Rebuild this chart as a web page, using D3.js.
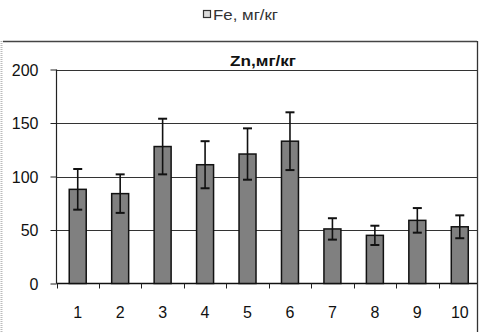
<!DOCTYPE html>
<html><head><meta charset="utf-8">
<script src="https://cdn.jsdelivr.net/npm/d3@7"></script>
<style>body{margin:0;background:#fff}svg{display:block}</style>
</head><body>
<script>
const categories = ["1","2","3","4","5","6","7","8","9","10"];
const values = [88, 84, 128, 111, 121, 133, 51, 45, 59, 53];
const errors = [19, 18, 26, 22, 24, 27, 10, 9, 11.5, 10.7];
const yTicks = [0, 50, 100, 150, 200];
const title = "Zn,мг/кг";
const legendLabel = "Fe, мг/кг";

const W = 481, H = 332;
const svg = d3.select("body").append("svg").attr("width", W).attr("height", H);
const font = "'Liberation Sans', Arial, sans-serif";

// outer chart box
svg.append("line").attr("x1", 3).attr("x2", 477).attr("y1", 41.5).attr("y2", 41.5).attr("stroke", "#444").attr("stroke-width", 1.3);
svg.append("line").attr("x1", 477.5).attr("x2", 477.5).attr("y1", 41).attr("y2", H).attr("stroke", "#333").attr("stroke-width", 1.3);
svg.append("line").attr("x1", 1.5).attr("x2", 1.5).attr("y1", 41).attr("y2", H).attr("stroke", "#bbb").attr("stroke-width", 2).attr("stroke-dasharray", "1,1");

// legend (from chart above)
svg.append("rect").attr("x", 203.5).attr("y", 10.5).attr("width", 7).attr("height", 7).attr("fill", "#ddd").attr("stroke", "#333").attr("stroke-width", 1.2);
svg.append("text").attr("x", 213).attr("y", 20).attr("font-family", font).attr("font-size", 14).attr("fill", "#333")
  .attr("textLength", 65).attr("lengthAdjust", "spacingAndGlyphs").text(legendLabel);

const x = d3.scaleBand().domain(categories).range([56.5, 481]).paddingInner(0.6).paddingOuter(0.3);
const xb = d3.scaleBand().domain(categories).range([56.5, 481]);
const y = d3.scaleLinear().domain([0, 200]).range([283.5, 69.5]);

// gridlines
svg.append("g").selectAll("line").data(yTicks.filter(d => d > 0)).join("line")
  .attr("x1", 56.5).attr("x2", 477).attr("y1", d => Math.round(y(d)) + 0.5).attr("y2", d => Math.round(y(d)) + 0.5)
  .attr("stroke", "#333").attr("stroke-width", 1.1);

// y axis
const ya = svg.append("g").attr("transform", "translate(56.5,0)")
  .call(d3.axisLeft(y).tickValues(yTicks).tickSize(6).tickPadding(12).tickFormat(d3.format("d")));
ya.select(".domain").attr("stroke", "#222").attr("stroke-width", 1.2).attr("d", `M0,${y(200)}V${y(0)}`);
ya.selectAll(".tick line").attr("stroke", "#222");
ya.selectAll("text").attr("font-family", font).attr("font-size", 16).attr("fill", "#111").attr("dy", "0.36em");

// x axis
svg.append("line").attr("x1", 56.5).attr("x2", 477).attr("y1", y(0)).attr("y2", y(0)).attr("stroke", "#111").attr("stroke-width", 1.3);
svg.append("g").selectAll("line").data(categories).join("line")
  .attr("x1", d => Math.round(xb(d)) + 0.5).attr("x2", d => Math.round(xb(d)) + 0.5)
  .attr("y1", y(0)).attr("y2", y(0) + 5).attr("stroke", "#222");
svg.append("g").selectAll("text").data(categories).join("text")
  .attr("x", d => xb(d) + xb.bandwidth() / 2).attr("y", 317.5)
  .attr("text-anchor", "middle").attr("font-family", font).attr("font-size", 16).attr("fill", "#111").text(d => d);

// bars
const idx = categories.map((c, i) => i);
svg.append("g").selectAll("rect").data(idx).join("rect")
  .attr("x", i => x(categories[i])).attr("width", x.bandwidth())
  .attr("y", i => y(values[i])).attr("height", i => y(0) - y(values[i]))
  .attr("fill", "#808080").attr("stroke", "#111").attr("stroke-width", 1.5);

// error bars
const eb = svg.append("g").attr("stroke", "#111").attr("stroke-width", 1.6);
idx.forEach(i => {
  const cx = x(categories[i]) + x.bandwidth() / 2;
  const t = y(values[i] + errors[i]), b = y(values[i] - errors[i]);
  eb.append("line").attr("x1", cx).attr("x2", cx).attr("y1", t).attr("y2", b);
  eb.append("line").attr("x1", cx - 4.5).attr("x2", cx + 4.5).attr("y1", t).attr("y2", t).attr("stroke-width", 2);
  eb.append("line").attr("x1", cx - 4.5).attr("x2", cx + 4.5).attr("y1", b).attr("y2", b).attr("stroke-width", 2);
});

// title
svg.append("text").attr("x", 263).attr("y", 66).attr("text-anchor", "middle")
  .attr("font-family", font).attr("font-size", 15).attr("font-weight", "bold").attr("fill", "#111")
  .attr("textLength", 66).attr("lengthAdjust", "spacingAndGlyphs").text(title);
</script>
</body></html>
